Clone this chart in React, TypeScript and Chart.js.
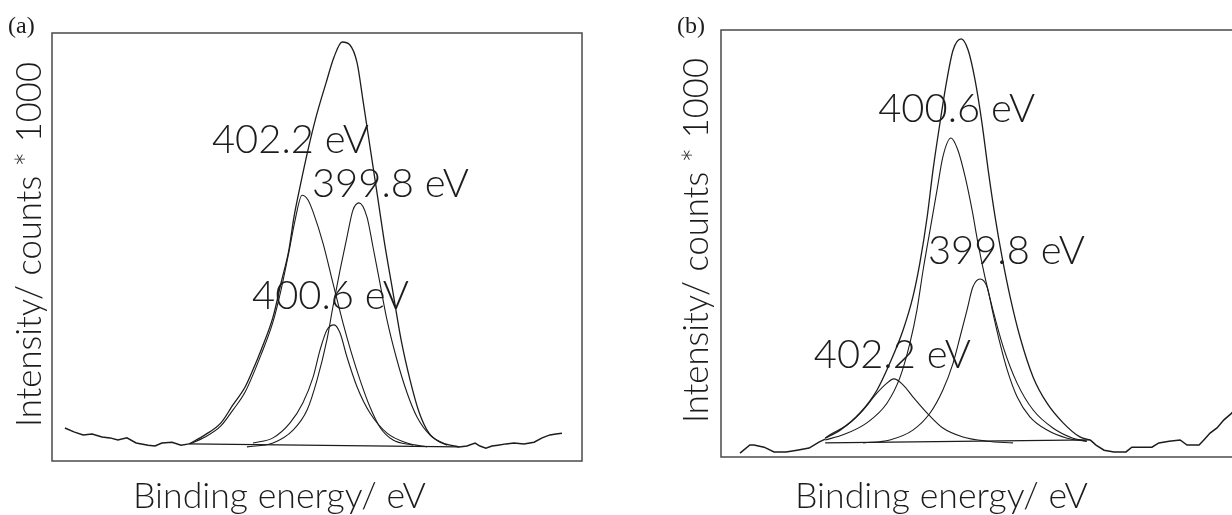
import React, { useEffect, useRef } from 'react';
import { Chart, registerables } from 'chart.js';

Chart.register(...registerables);

// ---------- Text ----------
const Y_TITLE = 'Intensity/ counts * 1000';
const X_TITLE = 'Binding energy/ eV';
const PEAK_LABELS = ['402.2 eV', '399.8 eV', '400.6 eV'];

// ---------- Panel (a) data: [binding energy (eV), intensity] ----------
const A_RAW_LEFT = [
  [412.44, 0.77], [412.05, 0.68], [411.65, 0.61], [411.26, 0.63], [410.83, 0.56],
  [410.48, 0.54], [410.14, 0.49], [409.75, 0.54], [409.35, 0.42], [408.83, 0.37],
  [408.53, 0.35], [408.23, 0.42], [407.79, 0.44], [407.4, 0.37], [407.05, 0.4],
];
const A_RAW_RIGHT = [
  [395.51, 0.35], [395.34, 0.33], [394.99, 0.35], [394.64, 0.42], [394.43, 0.35],
  [394.17, 0.3], [393.91, 0.35], [393.65, 0.37], [393.3, 0.4], [392.95, 0.42],
  [392.52, 0.4], [392.08, 0.44], [391.73, 0.54], [391.39, 0.61], [391.13, 0.63],
  [390.87, 0.65],
];
const A_ENVELOPE = [
  [407.05, 0.4], [406.36, 0.61], [405.67, 0.89], [405.15, 1.31], [404.62, 1.73],
  [404.28, 2.13], [403.93, 2.59], [403.41, 3.36], [403.06, 4.16], [402.72, 4.93],
  [402.5, 5.7], [402.24, 6.4], [401.89, 7.27], [401.54, 8.04], [401.11, 8.83],
  [400.76, 9.44], [400.41, 9.79], [400.07, 9.72], [399.76, 9.3], [399.5, 8.41],
  [399.16, 7.2], [398.85, 6.1], [398.59, 5.16], [398.2, 3.93], [397.85, 2.83],
  [397.46, 1.89], [397.07, 1.14], [396.64, 0.65], [396.16, 0.44], [395.51, 0.35],
];
const A_BASELINE = [[407.05, 0.4], [395.34, 0.33]];
const A_PEAK_4022 = [
  [407.01, 0.4], [406.36, 0.56], [405.67, 0.82], [405.15, 1.19], [404.62, 1.61],
  [403.93, 2.48], [403.41, 3.25], [403.06, 4.0], [402.72, 4.88], [402.45, 5.63],
  [402.15, 6.21], [401.89, 6.1], [401.67, 5.82], [401.24, 5.09], [400.81, 4.16],
  [400.37, 3.22], [400.02, 2.55], [399.63, 1.89], [399.2, 1.26], [398.77, 0.79],
  [398.2, 0.49], [397.33, 0.37],
];
const A_PEAK_4006 = [
  [404.28, 0.42], [403.41, 0.54], [402.67, 0.89], [402.11, 1.36], [401.67, 1.96],
  [401.37, 2.59], [401.07, 3.06], [400.76, 3.18], [400.5, 2.99], [400.2, 2.43],
  [399.76, 1.73], [399.2, 1.12], [398.46, 0.65], [397.59, 0.42], [396.73, 0.33],
];
const A_PEAK_3998 = [
  [404.54, 0.33], [403.41, 0.42], [402.54, 0.72], [401.93, 1.19], [401.5, 1.89],
  [401.07, 2.83], [400.81, 3.6], [400.5, 4.46], [400.2, 5.23], [399.94, 5.86],
  [399.68, 6.03], [399.33, 5.7], [399.07, 5.0], [398.77, 4.16], [398.46, 3.29],
  [398.03, 2.36], [397.59, 1.59], [397.16, 1.03], [396.6, 0.61], [395.86, 0.37],
];
// label anchors (left, baseline) in data units, same order as PEAK_LABELS
const A_LABEL_X = [406.06, 401.72, 404.32];
const A_LABEL_Y = [7.2, 6.17, 3.55];

// ---------- Panel (b) data ----------
const B_RAW_LEFT = [
  [406.38, 0.09], [406.11, 0.28], [406.0, 0.28], [405.72, 0.23], [405.45, 0.12],
  [405.12, 0.12], [404.82, 0.16], [404.49, 0.21], [404.22, 0.35], [404.05, 0.42],
];
const B_RAW_RIGHT = [
  [396.8, 0.4], [396.64, 0.28], [396.42, 0.16], [396.15, 0.12], [395.82, 0.12],
  [395.66, 0.23], [395.44, 0.23], [395.11, 0.23], [394.92, 0.33], [394.64, 0.37],
  [394.34, 0.4], [394.15, 0.28], [393.82, 0.28], [393.69, 0.4], [393.52, 0.56],
  [393.33, 0.68], [393.14, 0.87], [392.95, 1.01], [392.56, 1.33],
];
const B_ENVELOPE = [
  [404.05, 0.44], [403.64, 0.63], [403.1, 1.03], [402.63, 1.57], [402.28, 2.2],
  [401.92, 2.97], [401.65, 3.75], [401.46, 4.54], [401.26, 5.62], [401.1, 6.72],
  [400.91, 7.82], [400.72, 8.83], [400.55, 9.53], [400.33, 9.79], [400.14, 9.53],
  [399.95, 8.83], [399.76, 7.82], [399.59, 6.72], [399.4, 5.62], [399.21, 4.68],
  [398.99, 3.75], [398.72, 2.81], [398.36, 1.87], [397.98, 1.26], [397.54, 0.8],
  [397.08, 0.47], [396.8, 0.4],
];
const B_BASELINE = [[404.05, 0.33], [396.8, 0.4]];
const B_PEAK_4006 = [
  [404.05, 0.4], [403.56, 0.52], [402.91, 0.8], [402.36, 1.26], [402.0, 1.87],
  [401.73, 2.67], [401.54, 3.44], [401.37, 4.38], [401.18, 5.32], [400.99, 6.25],
  [400.83, 7.03], [400.61, 7.47], [400.42, 7.19], [400.22, 6.56], [400.03, 5.78],
  [399.87, 5.01], [399.68, 4.22], [399.46, 3.44], [399.18, 2.58], [398.8, 1.73],
  [398.36, 1.1], [397.82, 0.68], [397.27, 0.44], [396.89, 0.37],
];
const B_PEAK_3998 = [
  [403.01, 0.33], [402.28, 0.4], [401.65, 0.63], [401.18, 1.03], [400.83, 1.57],
  [400.55, 2.2], [400.36, 2.81], [400.17, 3.44], [400.01, 3.98], [399.81, 4.17],
  [399.62, 3.98], [399.46, 3.37], [399.27, 2.67], [399.07, 2.04], [398.8, 1.41],
  [398.45, 0.94], [397.98, 0.63], [397.43, 0.44], [396.89, 0.37],
];
const B_PEAK_4022 = [
  [404.05, 0.44], [403.92, 0.52], [403.45, 0.75], [403.01, 1.1], [402.63, 1.5],
  [402.36, 1.73], [402.17, 1.83], [401.92, 1.69], [401.65, 1.41], [401.26, 1.03],
  [400.83, 0.68], [400.28, 0.47], [399.62, 0.37], [398.91, 0.33],
];
const B_LABEL_X = [404.36, 401.24, 402.6];
const B_LABEL_Y = [2.08, 4.52, 7.85];

// ---------- styling ----------
const INK = '#1c1c1c';
const FRAME = '#4a4a4a';
const SANS = 'Lato, "Open Sans", "DejaVu Sans", sans-serif';

function fitted(ctx: CanvasRenderingContext2D, text: string, x: number, y: number, width: number, size: number, rotate = false) {
  ctx.save();
  ctx.font = `300 ${size}px ${SANS}`;
  ctx.textAlign = 'left';
  ctx.textBaseline = 'alphabetic';
  const w = ctx.measureText(text).width || 1;
  ctx.translate(x, y);
  if (rotate) ctx.rotate(-Math.PI / 2);
  ctx.scale(width / w, 1);
  ctx.fillText(text, 0, 0);
  ctx.restore();
}

type PanelCfg = {
  left: number; width: number;
  pad: { left: number; top: number; right: number; bottom: number };
  xMin: number; xMax: number;
  letter: string; letterX: number;
  yTitleGap: number; yTitleInset: number;
  xTitleLeft: number; xTitleBase: number;
  rawLeft: number[][]; rawRight: number[][];
  envelope: number[][]; baseline: number[][];
  peaks: number[][][];
  labelX: number[]; labelY: number[];
};

const PANELS: PanelCfg[] = [
  {
    left: 0, width: 616,
    pad: { left: 52, top: 33, right: 34, bottom: 54 },
    xMin: 390, xMax: 413,
    letter: '(a)', letterX: 8,
    yTitleGap: 11, yTitleInset: 34,
    xTitleLeft: 81, xTitleBase: 47,
    rawLeft: A_RAW_LEFT, rawRight: A_RAW_RIGHT,
    envelope: A_ENVELOPE, baseline: A_BASELINE,
    peaks: [A_PEAK_4022, A_PEAK_4006, A_PEAK_3998],
    labelX: A_LABEL_X, labelY: A_LABEL_Y,
  },
  {
    left: 616, width: 680,
    pad: { left: 105, top: 30, right: 45, bottom: 58 },
    xMin: 392.4, xMax: 406.9,
    letter: '(b)', letterX: 61,
    yTitleGap: 13, yTitleInset: 34,
    xTitleLeft: 74, xTitleBase: 51,
    rawLeft: B_RAW_LEFT, rawRight: B_RAW_RIGHT,
    envelope: B_ENVELOPE, baseline: B_BASELINE,
    peaks: [B_PEAK_4022, B_PEAK_4006, B_PEAK_3998],
    labelX: B_LABEL_X, labelY: B_LABEL_Y,
  },
];

const toPts = (arr: number[][]) => arr.map(([x, y]) => ({ x, y }));

function Panel({ cfg }: { cfg: PanelCfg }) {
  const ref = useRef<HTMLCanvasElement | null>(null);
  useEffect(() => {
    if (!ref.current) return;
    const line = (pts: number[][], width: number, smooth: boolean) => ({
      data: toPts(pts),
      borderColor: INK,
      borderWidth: width,
      pointRadius: 0,
      fill: false,
      tension: 0,
      cubicInterpolationMode: smooth ? 'monotone' : 'default',
    });
    const decor = {
      id: 'decor',
      afterDatasetsDraw(chart: any) {
        const { ctx, chartArea: a, scales } = chart;
        ctx.save();
        ctx.strokeStyle = FRAME;
        ctx.lineWidth = 1.5;
        ctx.strokeRect(a.left, a.top, a.right - a.left, a.bottom - a.top);
        ctx.fillStyle = INK;
        ctx.font = '24px "Liberation Serif", "Times New Roman", serif';
        ctx.textAlign = 'left';
        ctx.textBaseline = 'alphabetic';
        ctx.fillText(cfg.letter, cfg.letterX, 33);
        fitted(ctx, Y_TITLE, a.left - cfg.yTitleGap, a.bottom - cfg.yTitleInset, 365, 36, true);
        fitted(ctx, X_TITLE, a.left + cfg.xTitleLeft, a.bottom + cfg.xTitleBase, 293, 35);
        PEAK_LABELS.forEach((t, i) => {
          fitted(ctx, t, scales.x.getPixelForValue(cfg.labelX[i]), scales.y.getPixelForValue(cfg.labelY[i]), 157, 39);
        });
        ctx.restore();
      },
    };
    const chart = new Chart(ref.current, {
      type: 'line',
      data: {
        datasets: [
          line(cfg.rawLeft, 1.5, false),
          line(cfg.rawRight, 1.5, false),
          line(cfg.baseline, 1.2, false),
          ...cfg.peaks.map((p) => line(p, 1.1, true)),
          line(cfg.envelope, 1.3, true),
        ] as any,
      },
      options: {
        responsive: false,
        animation: false,
        devicePixelRatio: 1,
        events: [],
        layout: { padding: cfg.pad },
        scales: {
          x: { type: 'linear', display: false, min: cfg.xMin, max: cfg.xMax, reverse: true },
          y: { type: 'linear', display: false, min: 0, max: 10 },
        },
        plugins: { legend: { display: false }, tooltip: { enabled: false }, title: { display: false } },
      } as any,
      plugins: [decor],
    });
    return () => chart.destroy();
  }, [cfg]);
  return (
    <canvas
      ref={ref}
      width={cfg.width}
      height={515}
      style={{ position: 'absolute', left: cfg.left, top: 0, width: cfg.width, height: 515 }}
    />
  );
}

export default function App() {
  return (
    <div style={{ position: 'fixed', left: 0, top: 0, width: 1232, height: 515, overflow: 'hidden', background: '#ffffff' }}>
      {PANELS.map((p) => (
        <Panel key={p.letter} cfg={p} />
      ))}
    </div>
  );
}
